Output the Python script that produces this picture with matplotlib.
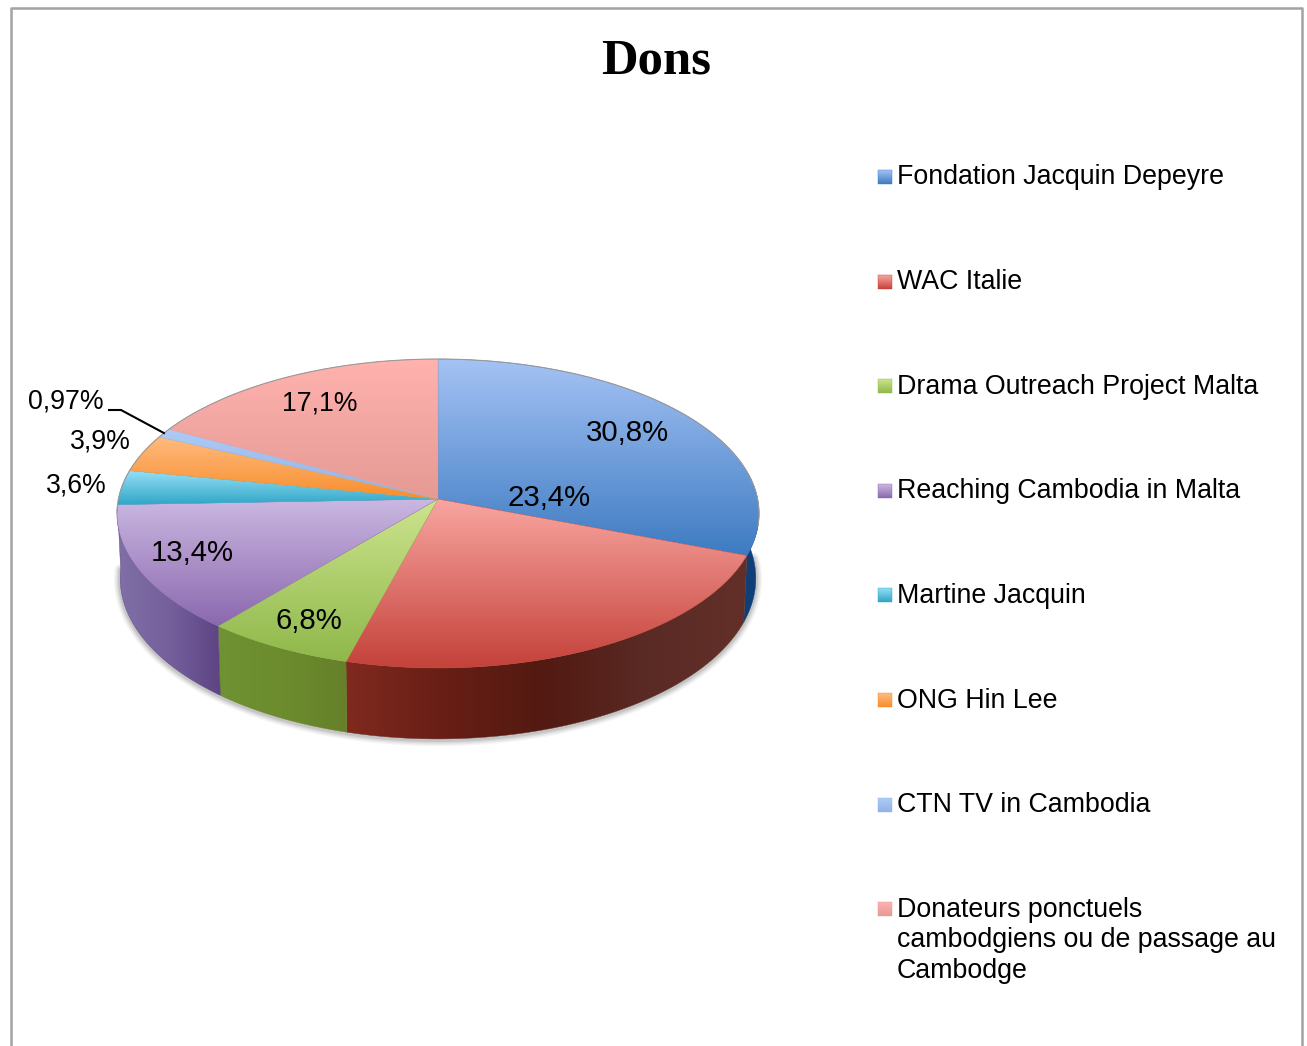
import matplotlib
matplotlib.use("Agg")
import matplotlib.pyplot as plt
import numpy as np
from matplotlib.patches import PathPatch
from matplotlib.path import Path

# donnees
title = "Dons"
names = ["Fondation Jacquin Depeyre", "WAC Italie", "Drama Outreach Project Malta",
         "Reaching Cambodia in Malta", "Martine Jacquin", "ONG Hin Lee", "CTN TV in Cambodia",
         "Donateurs ponctuels\ncambodgiens ou de passage au\nCambodge"]
values = [30.8, 23.4, 6.8, 13.4, 3.6, 3.9, 0.97, 17.1]
labels = ["30,8%", "23,4%", "6,8%", "13,4%", "3,6%", "3,9%", "0,97%", "17,1%"]

# couleurs du dessus (haut -> bas)
top_colors = [("#a4c2f4", "#3d7bc2"), ("#f9a5a0", "#c4423a"), ("#cde48f", "#8fb84a"),
              ("#cbb8e2", "#8a68ae"), ("#94def6", "#2fa6c6"), ("#ffbb80", "#f78e2c"),
              ("#aecbf6", "#8fb2e8"), ("#ffb2ae", "#e59a94")]
# couleurs du cote (gauche -> droite)
side_colors = [("#0f3f78", "#0f3f78", "#12437c"), ("#80291f", "#671e15", "#521a12", "#5a2a24", "#633029"),
               ("#6f9232", "#6c8c2e", "#668029"), ("#8070a6", "#75609c", "#5d4484"),
               ("#2a8fa8", "#2a8fa8", "#2a8fa8"), ("#c87020", "#c87020", "#c87020"),
               ("#7090c8", "#7090c8", "#7090c8"), ("#c08080", "#c08080", "#c08080")]

# reglages de la perspective (pixels)
CX, CY = 438, 499
BX, BY = 319.6, 153.1
K = 0.0939
DEPTH = 64.3
SHRINK = 0.99

label_pos = [(627, 433), (549, 498), (309, 621), (192, 553), (76, 485), (100, 441), (66, 401), (320, 403)]
label_size = [21.2, 21.2, 21.2, 21.2, 19.2, 19.2, 19.2, 19.2]
leg_y0, leg_step = 175, 104.6


def rim(theta):
    # bord du dessus, theta en degres depuis midi dans le sens horaire
    t = np.radians(theta)
    u, v = np.sin(t), -np.cos(t)
    d = 1 - K * v
    return CX + BX * u / d, CY + BY * v / d, d


def rim_low(theta):
    x, y, d = rim(theta)
    return CX + (x - CX) * SHRINK, y + DEPTH / d


def hex2rgb(c):
    return np.array(matplotlib.colors.to_rgb(c))


def grad_fill(ax, xy, colors, vertical=True, z=2):
    xy = np.asarray(xy)
    patch = PathPatch(Path(np.vstack([xy, xy[0]])), fc="none", ec="none", transform=ax.transData)
    ax.add_patch(patch)
    x0, x1 = xy[:, 0].min(), xy[:, 0].max()
    y0, y1 = xy[:, 1].min(), xy[:, 1].max()
    stops = np.linspace(0, 1, len(colors))
    pos = np.linspace(0, 1, 128)
    rgb = np.array([hex2rgb(c) for c in colors])
    line = np.stack([np.interp(pos, stops, rgb[:, i]) for i in range(3)], axis=1)
    img = line[:, None, :] if vertical else line[None, :, :]
    im = ax.imshow(img, extent=(x0, x1, y1, y0), origin="upper", aspect="auto",
                   interpolation="bilinear", zorder=z)
    im.set_clip_path(patch)
    # fin contour de meme teinte pour cacher les joints
    ax.fill(xy[:, 0], xy[:, 1], fc="none", ec=colors[-1], lw=0.3, zorder=z)


fig = plt.figure(figsize=(13.07, 10.46), dpi=100, facecolor="white")
ax = fig.add_axes([0, 0, 1, 1])
ax.set_autoscale_on(False)
ax.set_xlim(0, 1307)
ax.set_ylim(1046, 0)
ax.axis("off")

# cadre
ax.plot([11, 11, 1302, 1302], [1050, 8, 8, 1050], color="#a3a3a3", lw=1.8, zorder=1)

ax.text(656, 61.5, title, family="Liberation Serif", weight="bold", fontsize=36.5, ha="center", va="center")

# ombre
ang = np.linspace(88, 268, 200)
sx, sy = rim_low(ang)
for lw, a in zip([9, 7, 5, 3], [0.05, 0.07, 0.09, 0.13]):
    ax.plot(sx, sy + 1, color="#444444", alpha=a, lw=lw, solid_capstyle="round", zorder=1.5)

fracs = np.array(values) / sum(values) * 360
edges = np.concatenate([[0], np.cumsum(fracs)])

# cotes
for i in range(len(values)):
    a0, a1 = max(edges[i], 80), min(edges[i + 1], 267.8)
    if a1 <= a0:
        continue
    th = np.linspace(a0, a1, 120)
    x, y, _ = rim(th)
    lx, ly = rim_low(th)
    poly = np.column_stack([np.r_[x, lx[::-1]], np.r_[y, ly[::-1]]])
    grad_fill(ax, poly, side_colors[i], vertical=False, z=2)

# dessus
for i in range(len(values)):
    th = np.linspace(edges[i], edges[i + 1], 120)
    x, y, _ = rim(th)
    poly = np.column_stack([np.r_[CX, x], np.r_[CY, y]])
    grad_fill(ax, poly, top_colors[i], z=3)

th = np.linspace(-95, 100, 200)
x, y, _ = rim(th)
ax.plot(x, y, color="#9a9a9a", lw=0.8, zorder=4)

# etiquettes
for lab, (px, py), fs in zip(labels, label_pos, label_size):
    ax.text(px, py, lab, family="Liberation Sans", fontsize=fs, ha="center", va="center", color="black", zorder=6)

# trait de rappel vers la petite tranche
tx, ty, _ = rim((edges[6] + edges[7]) / 2)
ax.plot([109, 121, tx], [410, 410, ty], color="black", lw=1.5, zorder=6)

# legende
for i, name in enumerate(names):
    yy = leg_y0 + i * leg_step
    sq = [(878, yy - 5), (892, yy - 5), (892, yy + 9), (878, yy + 9)]
    grad_fill(ax, sq, top_colors[i], z=3)
    ax.text(897, yy - 10.5, name, family="Liberation Sans", fontsize=19.25, ha="left", va="top",
            linespacing=1.23, color="black")

ax.set_xlim(0, 1307)
ax.set_ylim(1046, 0)
fig.savefig("out.png", dpi=100)
